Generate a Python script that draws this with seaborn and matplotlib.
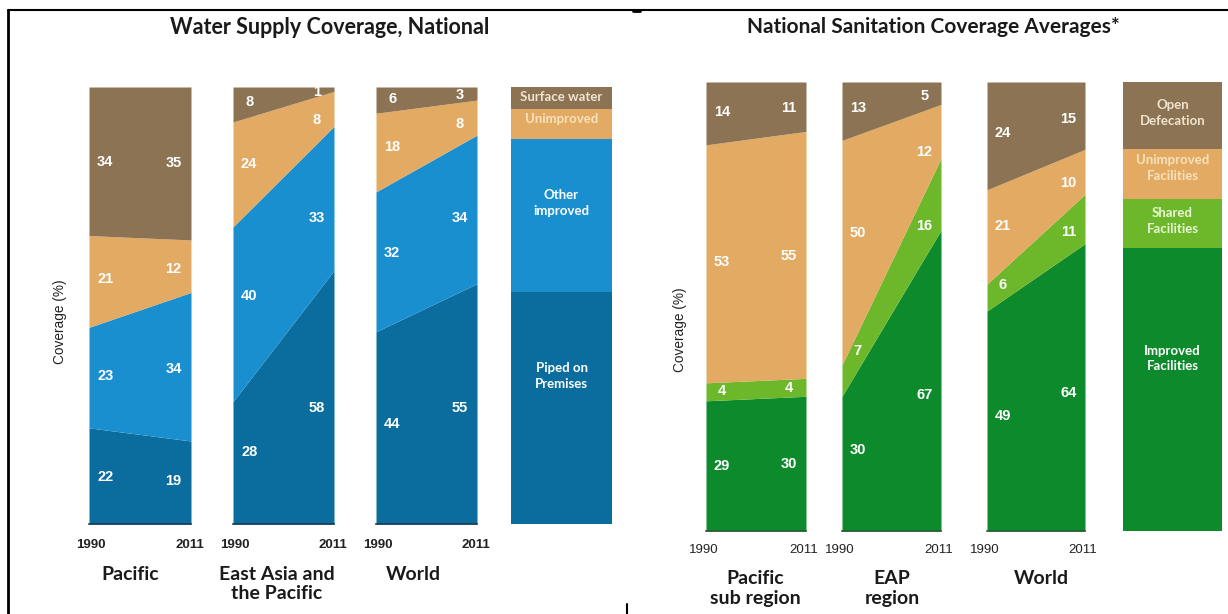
import numpy as np
import matplotlib
matplotlib.use("Agg")
import matplotlib.pyplot as plt
import seaborn as sns
from matplotlib.lines import Line2D

# ---------------- data ----------------
years = [1990, 2011]

water_regions = ["Pacific", "East Asia and\nthe Pacific", "World"]
water_layers = ["Piped on\nPremises", "Other\nimproved", "Unimproved", "Surface water"]
water_piped = [[22, 19], [28, 58], [44, 55]]
water_other = [[23, 34], [40, 33], [32, 34]]
water_unimp = [[21, 12], [24, 8], [18, 8]]
water_surface = [[34, 35], [8, 1], [6, 3]]
water_legend_sizes = [53, 35, 7, 5]

san_regions = ["Pacific\nsub region", "EAP\nregion", "World"]
san_layers = ["Improved\nFacilities", "Shared\nFacilities", "Unimproved\nFacilities", "Open\nDefecation"]
san_improved = [[29, 30], [30, 67], [49, 64]]
san_shared = [[4, 4], [7, 16], [6, 11]]
san_unimp = [[53, 55], [50, 12], [21, 10]]
san_open = [[14, 11], [13, 5], [24, 15]]
san_legend_sizes = [63, 11, 11, 15]

# ---------------- style ----------------
sns.set_theme(style="white")
plt.rcParams["font.family"] = ["Liberation Sans", "DejaVu Sans"]

W, H = 1228, 614
fig = plt.figure(figsize=(W / 100, H / 100), dpi=100)

water_colors = ["#0a6d9e", "#1a8fcf", "#e2aa62", "#8c7353"]
san_colors = ["#0d8a2b", "#6cb82a", "#e2aa62", "#8c7353"]
water_leg_txt = ["white", "white", "#f7e2bd", "#efe4cf"]
san_leg_txt = ["white", "#eaf6d6", "#f7e2bd", "#efe4cf"]


def fx(x):
    return x / W


def fy(y):
    return 1 - y / H


def add_ax(x0, x1, ytop, ybot):
    return fig.add_axes([fx(x0), fy(ybot), (x1 - x0) / W, (ybot - ytop) / H])


def draw_area(ax, layers, colors, bottom_line=None):
    arr = np.array(layers, dtype=float)  # (nlayers, 2)
    cum = np.vstack([np.zeros(2), np.cumsum(arr, axis=0)])
    xs = np.array([0.0, 1.0])
    for i in range(arr.shape[0]):
        ax.fill_between(xs, cum[i], cum[i + 1], color=colors[i], linewidth=0)
    # labels near each edge
    for t in (0.16, 0.83):
        lo = cum[:-1, 0] + t * (cum[:-1, 1] - cum[:-1, 0])
        hi = cum[1:, 0] + t * (cum[1:, 1] - cum[1:, 0])
        vals = arr[:, 0] if t < 0.5 else arr[:, 1]
        for i in range(arr.shape[0]):
            ax.text(t, (lo[i] + hi[i]) / 2, f"{int(vals[i])}", color="white",
                    fontsize=10.5, fontweight="bold", ha="center", va="center")
    ax.set_xlim(0, 1)
    ax.set_ylim(0, 100)
    ax.set_xticks([])
    ax.set_yticks([])
    for s in ax.spines.values():
        s.set_visible(False)
    if bottom_line:
        ax.spines["bottom"].set_visible(True)
        ax.spines["bottom"].set_color(bottom_line)
        ax.spines["bottom"].set_linewidth(1.2)


def draw_legend_bar(ax, sizes, colors, names, txtcolors, ypos, fs):
    cum = np.concatenate([[0], np.cumsum(sizes)])
    total = cum[-1]
    for i in range(len(sizes)):
        ax.bar(0.5, sizes[i], bottom=cum[i], width=1.0, color=colors[i], linewidth=0)
        ax.text(0.5, ypos[i], names[i], color=txtcolors[i], fontsize=fs,
                ha="center", va="center", family=["Lato", "DejaVu Sans"],
                fontweight="bold", linespacing=1.35)
    ax.set_xlim(0, 1)
    ax.set_ylim(0, total)
    ax.set_xticks([])
    ax.set_yticks([])
    for s in ax.spines.values():
        s.set_visible(False)


# ---------------- water panel ----------------
w_top, w_bot = 87, 524
w_bars = [(89, 191), (233, 334), (376, 477)]
for k, (x0, x1) in enumerate(w_bars):
    ax = add_ax(x0, x1, w_top, w_bot)
    draw_area(ax, [water_piped[k], water_other[k], water_unimp[k], water_surface[k]],
              water_colors, bottom_line="#1c3a52")
    fig.text(fx(x0 + 2), fy(545), str(years[0]), fontsize=9.5, fontweight="bold",
             ha="center", va="center", color="#222222")
    fig.text(fx(x1 - 1), fy(545), str(years[1]), fontsize=9.5, fontweight="bold",
             ha="center", va="center", color="#222222")
w_lab_x = [130, 277, 413]
for k, name in enumerate(water_regions):
    fig.text(fx(w_lab_x[k]), fy(566), name, fontsize=14, fontweight="bold",
             ha="center", va="top", family=["Lato", "DejaVu Sans"],
             linespacing=1.15, color="#1a1a1a")

axl = add_ax(511, 612, w_top, w_bot)
tot_w = sum(water_legend_sizes)
draw_legend_bar(axl, water_legend_sizes, water_colors, water_layers, water_leg_txt,
                [33.9 * tot_w / 100, 73.5 * tot_w / 100,
                 92.7 * tot_w / 100, 97.7 * tot_w / 100],
                9.5)

fig.text(fx(330), fy(27), "Water Supply Coverage, National", fontsize=15.5,
         fontweight="bold", ha="center", va="center", family=["Lato", "DejaVu Sans"],
         color="#1a1a1a")
fig.text(fx(60), fy(322), "Coverage (%)", fontsize=9.8, rotation=90,
         ha="center", va="center", color="#222222")

# ---------------- sanitation panel ----------------
s_top, s_bot = 82, 531
s_bars = [(706, 806), (842, 941), (987, 1085)]
for k, (x0, x1) in enumerate(s_bars):
    ax = add_ax(x0, x1, s_top, s_bot)
    draw_area(ax, [san_improved[k], san_shared[k], san_unimp[k], san_open[k]],
              san_colors, bottom_line="#2c5a32")
    fig.text(fx(x0 - 2), fy(550), str(years[0]), fontsize=9.5,
             ha="center", va="center", color="#222222")
    fig.text(fx(x1 - 2), fy(550), str(years[1]), fontsize=9.5,
             ha="center", va="center", color="#222222")
s_lab_x = [755, 892, 1041]
for k, name in enumerate(san_regions):
    fig.text(fx(s_lab_x[k]), fy(570), name, fontsize=14, fontweight="bold",
             ha="center", va="top", family=["Lato", "DejaVu Sans"],
             linespacing=1.2, color="#1a1a1a")

axl2 = add_ax(1123, 1222, s_top, s_bot)
draw_legend_bar(axl2, san_legend_sizes, san_colors, san_layers, san_leg_txt,
                [38.4, 69.0, 80.8, 93.1], 9.5)

fig.text(fx(933), fy(27), "National Sanitation Coverage Averages*", fontsize=15,
         fontweight="bold", ha="center", va="center", family=["Lato", "DejaVu Sans"],
         color="#1a1a1a")
fig.text(fx(680), fy(330), "Coverage (%)", fontsize=9.8, rotation=90,
         ha="center", va="center", color="#222222")

# ---------------- frame lines ----------------
fig.add_artist(Line2D([fx(8), fx(1228)], [fy(10), fy(10)], color="black", lw=1.5))
fig.add_artist(Line2D([fx(8), fx(8)], [fy(10), fy(614)], color="black", lw=2))
fig.add_artist(Line2D([fx(633), fx(640)], [fy(11), fy(11)], color="black", lw=2))
fig.add_artist(Line2D([fx(627), fx(627)], [fy(604), fy(614)], color="black", lw=1.5))

fig.savefig("out.png", dpi=100)
